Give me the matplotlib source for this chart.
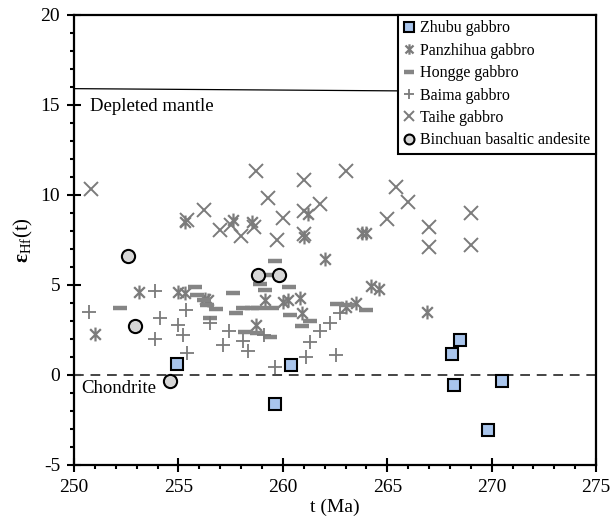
import matplotlib.pyplot as plt
from matplotlib.path import Path
from matplotlib.ticker import MultipleLocator

plt.rcParams['font.family'] = ['Liberation Serif', 'DejaVu Serif']
plt.rcParams['mathtext.fontset'] = 'custom'
plt.rcParams['mathtext.rm'] = 'Liberation Serif'
plt.rcParams['mathtext.bf'] = 'Liberation Serif:bold'
plt.rcParams['axes.unicode_minus'] = False

# data: t (Ma), eHf(t)
zhubu_t = [254.95, 259.6, 260.4, 268.1, 268.5, 268.2, 270.5, 269.8]
zhubu_e = [0.6, -1.6, 0.55, 1.15, 1.95, -0.55, -0.35, -3.05]

panzhihua_t = [251.0, 253.1, 255.0, 255.3, 256.4, 256.25, 255.3, 257.6, 258.5, 261.2,
               261.0, 262.0, 263.8, 264.0, 264.2, 264.6, 263.5, 263.0, 259.15, 260.0,
               260.25, 260.8, 260.9, 258.7, 266.9]
panzhihua_e = [2.28, 4.6, 4.6, 4.55, 4.17, 4.2, 8.5, 8.6, 8.5, 8.95,
               7.65, 6.44, 7.9, 7.9, 4.95, 4.76, 4.0, 3.8, 4.17, 4.07,
               4.17, 4.26, 3.43, 2.8, 3.52]

hongge_t = [252.2, 255.8, 255.9, 256.2, 256.35, 256.8, 257.6, 256.5, 257.75, 258.1,
            258.5, 258.2, 258.8, 259.5, 258.9, 259.15, 260.3, 259.6, 259.3, 260.35,
            261.3, 260.9, 258.75, 259.4, 262.6, 263.1, 264.0]
hongge_e = [3.74, 4.9, 4.44, 4.17, 3.9, 3.67, 4.54, 3.15, 3.46, 3.7,
            3.7, 2.41, 3.7, 3.7, 5.06, 4.72, 4.87, 6.35, 5.56, 3.33,
            3.02, 2.72, 2.31, 2.13, 3.92, 3.89, 3.61]

baima_t = [250.7, 253.9, 254.1, 253.9, 255.35, 255.0, 255.2, 255.4, 256.5, 257.4,
           257.15, 258.1, 258.35, 259.1, 261.8, 262.25, 261.3, 261.1, 259.6, 262.55,
           262.75]
baima_e = [3.48, 4.67, 3.15, 2.0, 3.6, 2.78, 2.22, 1.2, 2.87, 2.46,
           1.67, 1.9, 1.35, 2.22, 2.46, 2.87, 1.85, 1.02, 0.43, 1.11,
           3.43]

taihe_t = [250.8, 256.2, 257.0, 257.5, 258.0, 258.6, 258.7, 259.3, 259.7, 260.0,
           261.0, 261.8, 261.0, 261.0, 263.0, 265.4, 266.0, 265.0, 267.0, 267.0,
           269.0, 269.0, 255.4]
taihe_e = [10.3, 9.17, 8.06, 8.3, 7.7, 8.2, 11.35, 9.8, 7.5, 8.7,
           10.8, 9.5, 9.1, 7.8, 11.35, 10.46, 9.63, 8.65, 8.24, 7.13,
           9.02, 7.22, 8.6]

binchuan_t = [252.6, 252.9, 254.6, 258.8, 259.8]
binchuan_e = [6.63, 2.72, -0.31, 5.56, 5.56]

gray = '#7b7b7b'
star = Path([(-1, -1), (1, 1), (-1, 1), (1, -1), (0, -1.3), (0, 1.3)],
            [Path.MOVETO, Path.LINETO, Path.MOVETO, Path.LINETO, Path.MOVETO, Path.LINETO])

fig = plt.figure(figsize=(6.12, 5.29), dpi=100)
ax = fig.add_axes([0.121, 0.121, 0.853, 0.851])

# reference lines
ax.plot([250, 275], [15.9, 15.7], color='black', lw=0.9)
ax.axhline(0, color='#444444', lw=1.4, ls=(0, (5, 3.5)))
ax.text(250.75, 14.9, 'Depleted mantle', fontsize=13.5, va='center')
ax.text(250.35, -0.75, 'Chondrite', fontsize=13.5, va='center')

ax.plot(zhubu_t, zhubu_e, ls='none', marker='s', ms=9, mfc='#a9c5ec', mec='black', mew=1.5,
        label='Zhubu gabbro', zorder=5)
ax.plot(panzhihua_t, panzhihua_e, ls='none', marker=star, ms=10, mfc='none', mec=gray, mew=1.6,
        label='Panzhihua gabbro', zorder=3)
ax.plot(hongge_t, hongge_e, ls='none', marker='_', ms=10.5, mec='#858585', mew=3.2,
        label='Hongge gabbro', zorder=3)
ax.plot(baima_t, baima_e, ls='none', marker='+', ms=10, mec=gray, mew=1.3,
        label='Baima gabbro', zorder=3)
ax.plot(taihe_t, taihe_e, ls='none', marker='x', ms=9.5, mec=gray, mew=1.4,
        label='Taihe gabbro', zorder=3)
ax.plot(binchuan_t, binchuan_e, ls='none', marker='o', ms=9.5, mfc='#d6d6d6', mec='black', mew=1.5,
        label='Binchuan basaltic andesite', zorder=6)

ax.set_xlim(250, 275)
ax.set_ylim(-5, 20)
ax.xaxis.set_major_locator(MultipleLocator(5))
ax.xaxis.set_minor_locator(MultipleLocator(1))
ax.yaxis.set_major_locator(MultipleLocator(5))
ax.yaxis.set_minor_locator(MultipleLocator(1))
ax.tick_params(which='major', direction='inout', length=10, width=1.5, labelsize=14, pad=5)
ax.tick_params(which='minor', direction='out', length=3, width=1.5)
for s in ax.spines.values():
    s.set_linewidth(1.6)

ax.set_xlabel('t (Ma)', fontsize=14, labelpad=2)
ax.set_ylabel(r'$\mathbf{ε}_{\mathrm{Hf}}$(t)', fontsize=15, labelpad=4)

leg = ax.legend(loc='upper right', bbox_to_anchor=(1, 1), borderaxespad=0, fontsize=11.5,
                frameon=True, fancybox=False, edgecolor='black', framealpha=1,
                handlelength=0.7, handletextpad=0.35, labelspacing=0.4, borderpad=0.35,
                markerscale=0.75)
leg.get_frame().set_linewidth(1.5)

fig.savefig('out.png', dpi=100)
